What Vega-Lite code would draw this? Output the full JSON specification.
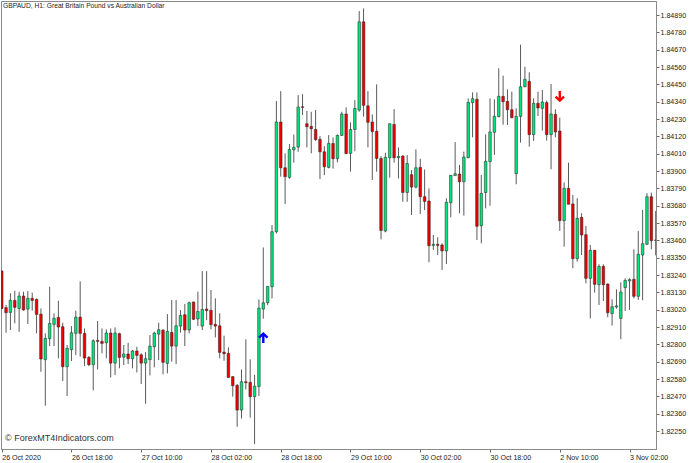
{
"$schema": "https://vega.github.io/schema/vega-lite/v6.json",
"background": "white",
"autosize": "none",
"width": 655,
"height": 448,
"padding": {"left": 1, "top": 1, "right": 40, "bottom": 14},
"config": {"view": {"stroke": "#8a8a8a", "strokeWidth": 1}, "font": "Liberation Sans"},
"datasets": {
"candles": [
{"bar":0,"open":1.83265,"high":1.83272,"low":1.83024,"close":1.83028},
{"bar":1,"open":1.83033,"high":1.83049,"low":1.82874,"close":1.83001},
{"bar":2,"open":1.83003,"high":1.83124,"low":1.82891,"close":1.83079},
{"bar":3,"open":1.83079,"high":1.83140,"low":1.82933,"close":1.83035},
{"bar":4,"open":1.83028,"high":1.83134,"low":1.82880,"close":1.83107},
{"bar":5,"open":1.83107,"high":1.83134,"low":1.83014,"close":1.83018},
{"bar":6,"open":1.83024,"high":1.83138,"low":1.82929,"close":1.83092},
{"bar":7,"open":1.83092,"high":1.83128,"low":1.83014,"close":1.83079},
{"bar":8,"open":1.83085,"high":1.83092,"low":1.82870,"close":1.82990},
{"bar":9,"open":1.82992,"high":1.83028,"low":1.82626,"close":1.82707},
{"bar":10,"open":1.82703,"high":1.82870,"low":1.82411,"close":1.82838},
{"bar":11,"open":1.82836,"high":1.83166,"low":1.82789,"close":1.82933},
{"bar":12,"open":1.82927,"high":1.82997,"low":1.82789,"close":1.82965},
{"bar":13,"open":1.82971,"high":1.83077,"low":1.82711,"close":1.82910},
{"bar":14,"open":1.82912,"high":1.82937,"low":1.82567,"close":1.82658},
{"bar":15,"open":1.82658,"high":1.82796,"low":1.82472,"close":1.82775},
{"bar":16,"open":1.82766,"high":1.82916,"low":1.82694,"close":1.82874},
{"bar":17,"open":1.82870,"high":1.83014,"low":1.82732,"close":1.82973},
{"bar":18,"open":1.82973,"high":1.83200,"low":1.82722,"close":1.82870},
{"bar":19,"open":1.82870,"high":1.82901,"low":1.82662,"close":1.82713},
{"bar":20,"open":1.82717,"high":1.82726,"low":1.82662,"close":1.82671},
{"bar":21,"open":1.82671,"high":1.82832,"low":1.82508,"close":1.82823},
{"bar":22,"open":1.82825,"high":1.82948,"low":1.82641,"close":1.82819},
{"bar":23,"open":1.82819,"high":1.82901,"low":1.82743,"close":1.82806},
{"bar":24,"open":1.82810,"high":1.82895,"low":1.82711,"close":1.82872},
{"bar":25,"open":1.82872,"high":1.82901,"low":1.82590,"close":1.82681},
{"bar":26,"open":1.82681,"high":1.82908,"low":1.82605,"close":1.82872},
{"bar":27,"open":1.82868,"high":1.82874,"low":1.82648,"close":1.82717},
{"bar":28,"open":1.82719,"high":1.82796,"low":1.82669,"close":1.82739},
{"bar":29,"open":1.82739,"high":1.82810,"low":1.82675,"close":1.82709},
{"bar":30,"open":1.82709,"high":1.82764,"low":1.82648,"close":1.82758},
{"bar":31,"open":1.82758,"high":1.82785,"low":1.82622,"close":1.82730},
{"bar":32,"open":1.82734,"high":1.82743,"low":1.82548,"close":1.82681},
{"bar":33,"open":1.82681,"high":1.82751,"low":1.82423,"close":1.82709},
{"bar":34,"open":1.82703,"high":1.82859,"low":1.82603,"close":1.82789},
{"bar":35,"open":1.82785,"high":1.82880,"low":1.82654,"close":1.82872},
{"bar":36,"open":1.82865,"high":1.82937,"low":1.82700,"close":1.82893},
{"bar":37,"open":1.82891,"high":1.82895,"low":1.82610,"close":1.82686},
{"bar":38,"open":1.82679,"high":1.82992,"low":1.82616,"close":1.82882},
{"bar":39,"open":1.82876,"high":1.83081,"low":1.82690,"close":1.82789},
{"bar":40,"open":1.82789,"high":1.83081,"low":1.82675,"close":1.82918},
{"bar":41,"open":1.82916,"high":1.83018,"low":1.82874,"close":1.82984},
{"bar":42,"open":1.82988,"high":1.83056,"low":1.82789,"close":1.82891},
{"bar":43,"open":1.82891,"high":1.83071,"low":1.82870,"close":1.83064},
{"bar":44,"open":1.83069,"high":1.83071,"low":1.82954,"close":1.82959},
{"bar":45,"open":1.82961,"high":1.83134,"low":1.82916,"close":1.83009},
{"bar":46,"open":1.82916,"high":1.83265,"low":1.82891,"close":1.83022},
{"bar":47,"open":1.83024,"high":1.83265,"low":1.82954,"close":1.83014},
{"bar":48,"open":1.83016,"high":1.83145,"low":1.82895,"close":1.82925},
{"bar":49,"open":1.82927,"high":1.83092,"low":1.82844,"close":1.82916},
{"bar":50,"open":1.82918,"high":1.82997,"low":1.82711,"close":1.82749},
{"bar":51,"open":1.82751,"high":1.82855,"low":1.82696,"close":1.82741},
{"bar":52,"open":1.82743,"high":1.82781,"low":1.82588,"close":1.82590},
{"bar":53,"open":1.82595,"high":1.82599,"low":1.82468,"close":1.82538},
{"bar":54,"open":1.82540,"high":1.82548,"low":1.82277,"close":1.82383},
{"bar":55,"open":1.82383,"high":1.82641,"low":1.82330,"close":1.82563},
{"bar":56,"open":1.82563,"high":1.82832,"low":1.82514,"close":1.82557},
{"bar":57,"open":1.82559,"high":1.82705,"low":1.82335,"close":1.82468},
{"bar":58,"open":1.82468,"high":1.82607,"low":1.82167,"close":1.82535},
{"bar":59,"open":1.82533,"high":1.83085,"low":1.82472,"close":1.83030},
{"bar":60,"open":1.83024,"high":1.83415,"low":1.82963,"close":1.83064},
{"bar":61,"open":1.83064,"high":1.83170,"low":1.83049,"close":1.83168},
{"bar":62,"open":1.83166,"high":1.83557,"low":1.83092,"close":1.83515},
{"bar":63,"open":1.83515,"high":1.84344,"low":1.83504,"close":1.84211},
{"bar":64,"open":1.84211,"high":1.84407,"low":1.83864,"close":1.83921},
{"bar":65,"open":1.83921,"high":1.84012,"low":1.83690,"close":1.83864},
{"bar":66,"open":1.83860,"high":1.84071,"low":1.83851,"close":1.84037},
{"bar":67,"open":1.84035,"high":1.84132,"low":1.83953,"close":1.84050},
{"bar":68,"open":1.84052,"high":1.84382,"low":1.84022,"close":1.84306},
{"bar":69,"open":1.84308,"high":1.84388,"low":1.84255,"close":1.84304},
{"bar":70,"open":1.84200,"high":1.84281,"low":1.84050,"close":1.84181},
{"bar":71,"open":1.84183,"high":1.84276,"low":1.84012,"close":1.84168},
{"bar":72,"open":1.84164,"high":1.84287,"low":1.84092,"close":1.84099},
{"bar":73,"open":1.84101,"high":1.84122,"low":1.83849,"close":1.84022},
{"bar":74,"open":1.84022,"high":1.84058,"low":1.83874,"close":1.83927},
{"bar":75,"open":1.83923,"high":1.84128,"low":1.83917,"close":1.84075},
{"bar":76,"open":1.84075,"high":1.84113,"low":1.83915,"close":1.83978},
{"bar":77,"open":1.83978,"high":1.84132,"low":1.83955,"close":1.84126},
{"bar":78,"open":1.84126,"high":1.84276,"low":1.84122,"close":1.84262},
{"bar":79,"open":1.84262,"high":1.84304,"low":1.84008,"close":1.84010},
{"bar":80,"open":1.84012,"high":1.84209,"low":1.83896,"close":1.84164},
{"bar":81,"open":1.84164,"high":1.84350,"low":1.84025,"close":1.84297},
{"bar":82,"open":1.84287,"high":1.84915,"low":1.84276,"close":1.84847},
{"bar":83,"open":1.84847,"high":1.84932,"low":1.84245,"close":1.84317},
{"bar":84,"open":1.84314,"high":1.84407,"low":1.84050,"close":1.84209},
{"bar":85,"open":1.84211,"high":1.84259,"low":1.83843,"close":1.84150},
{"bar":86,"open":1.84152,"high":1.84450,"low":1.83896,"close":1.83980},
{"bar":87,"open":1.83980,"high":1.83995,"low":1.83466,"close":1.83523},
{"bar":88,"open":1.83519,"high":1.84016,"low":1.83511,"close":1.83987},
{"bar":89,"open":1.83984,"high":1.84202,"low":1.83858,"close":1.84200},
{"bar":90,"open":1.84196,"high":1.84293,"low":1.83953,"close":1.83984},
{"bar":91,"open":1.83984,"high":1.84050,"low":1.83853,"close":1.83993},
{"bar":92,"open":1.83995,"high":1.84001,"low":1.83705,"close":1.83764},
{"bar":93,"open":1.83764,"high":1.84001,"low":1.83705,"close":1.83948},
{"bar":94,"open":1.83877,"high":1.83906,"low":1.83621,"close":1.83798},
{"bar":95,"open":1.83798,"high":1.84037,"low":1.83790,"close":1.83921},
{"bar":96,"open":1.83923,"high":1.83978,"low":1.83627,"close":1.83737},
{"bar":97,"open":1.83737,"high":1.83910,"low":1.83652,"close":1.83707},
{"bar":98,"open":1.83710,"high":1.83790,"low":1.83321,"close":1.83426},
{"bar":99,"open":1.83428,"high":1.83494,"low":1.83399,"close":1.83435},
{"bar":100,"open":1.83435,"high":1.83479,"low":1.83367,"close":1.83428},
{"bar":101,"open":1.83431,"high":1.83441,"low":1.83272,"close":1.83393},
{"bar":102,"open":1.83393,"high":1.83727,"low":1.83310,"close":1.83701},
{"bar":103,"open":1.83699,"high":1.83875,"low":1.83606,"close":1.83873},
{"bar":104,"open":1.83871,"high":1.84084,"low":1.83871,"close":1.83883},
{"bar":105,"open":1.83881,"high":1.83938,"low":1.83632,"close":1.83832},
{"bar":106,"open":1.83832,"high":1.84023,"low":1.83617,"close":1.83989},
{"bar":107,"open":1.83985,"high":1.84361,"low":1.83981,"close":1.84336},
{"bar":108,"open":1.84334,"high":1.84399,"low":1.84114,"close":1.84359},
{"bar":109,"open":1.84355,"high":1.84399,"low":1.83462,"close":1.83549},
{"bar":110,"open":1.83553,"high":1.83875,"low":1.83441,"close":1.83758},
{"bar":111,"open":1.83763,"high":1.84133,"low":1.83663,"close":1.83962},
{"bar":112,"open":1.83960,"high":1.84361,"low":1.83680,"close":1.84148},
{"bar":113,"open":1.84146,"high":1.84355,"low":1.84002,"close":1.84247},
{"bar":114,"open":1.84245,"high":1.84552,"low":1.84241,"close":1.84374},
{"bar":115,"open":1.84374,"high":1.84505,"low":1.84194,"close":1.84340},
{"bar":116,"open":1.84342,"high":1.84418,"low":1.84192,"close":1.84289},
{"bar":117,"open":1.84289,"high":1.84404,"low":1.84234,"close":1.84239},
{"bar":118,"open":1.83883,"high":1.84298,"low":1.83816,"close":1.84247},
{"bar":119,"open":1.84247,"high":1.84702,"low":1.84080,"close":1.84435},
{"bar":120,"open":1.84435,"high":1.84562,"low":1.84431,"close":1.84482},
{"bar":121,"open":1.84469,"high":1.84526,"low":1.84055,"close":1.84131},
{"bar":122,"open":1.84131,"high":1.84361,"low":1.84091,"close":1.84330},
{"bar":123,"open":1.84330,"high":1.84404,"low":1.84249,"close":1.84300},
{"bar":124,"open":1.84298,"high":1.84414,"low":1.84156,"close":1.84338},
{"bar":125,"open":1.84334,"high":1.84347,"low":1.84093,"close":1.84131},
{"bar":126,"open":1.84131,"high":1.84452,"low":1.83911,"close":1.84262},
{"bar":127,"open":1.84260,"high":1.84292,"low":1.84114,"close":1.84148},
{"bar":128,"open":1.84154,"high":1.84239,"low":1.83520,"close":1.83585},
{"bar":129,"open":1.83585,"high":1.83828,"low":1.83420,"close":1.83790},
{"bar":130,"open":1.83790,"high":1.83953,"low":1.83689,"close":1.83689},
{"bar":131,"open":1.83691,"high":1.83748,"low":1.83283,"close":1.83344},
{"bar":132,"open":1.83344,"high":1.83727,"low":1.83325,"close":1.83600},
{"bar":133,"open":1.83606,"high":1.83632,"low":1.83367,"close":1.83494},
{"bar":134,"open":1.83496,"high":1.83551,"low":1.83187,"close":1.83219},
{"bar":135,"open":1.83219,"high":1.83431,"low":1.82965,"close":1.83397},
{"bar":136,"open":1.83397,"high":1.83399,"low":1.83128,"close":1.83181},
{"bar":137,"open":1.83179,"high":1.83308,"low":1.83050,"close":1.83295},
{"bar":138,"open":1.83295,"high":1.83308,"low":1.83075,"close":1.83179},
{"bar":139,"open":1.83183,"high":1.83187,"low":1.82972,"close":1.83001},
{"bar":140,"open":1.82995,"high":1.83086,"low":1.82919,"close":1.83039},
{"bar":141,"open":1.83037,"high":1.83149,"low":1.83027,"close":1.83044},
{"bar":142,"open":1.82965,"high":1.83194,"low":1.82832,"close":1.83132},
{"bar":143,"open":1.83160,"high":1.83219,"low":1.83012,"close":1.83206},
{"bar":144,"open":1.83202,"high":1.83219,"low":1.83018,"close":1.83211},
{"bar":145,"open":1.83213,"high":1.83403,"low":1.83092,"close":1.83105},
{"bar":146,"open":1.83105,"high":1.83520,"low":1.83082,"close":1.83372},
{"bar":147,"open":1.83367,"high":1.83653,"low":1.83080,"close":1.83439},
{"bar":148,"open":1.83435,"high":1.83759,"low":1.83431,"close":1.83737},
{"bar":149,"open":1.83737,"high":1.83763,"low":1.83403,"close":1.83458},
{"bar":150,"open":1.83460,"high":1.83646,"low":1.83365,"close":1.83462}
],
"signals": [
{"bar":60,"price":1.82840,"signal":"buy"},
{"bar":128,"price":1.84376,"signal":"sell"}
],
"notes": [
{"bar":0.3,"price":1.84947,"label":"GBPAUD, H1:  Great Britain Pound vs Australian Dollar","size":6.7,"tone":"#222222"},
{"bar":0.76,"price":1.82205,"label":"© ForexMT4Indicators.com","size":9,"tone":"#333333"}
]
},
"layer": [
{
"data": {"name": "candles"},
"mark": {"type": "rule", "color": "#5a5a5a", "strokeWidth": 1, "clip": true},
"encoding": {
"x": {"field": "bar", "type": "quantitative", "scale": {"domain": [-0.16, 150.07], "nice": false, "zero": false, "padding": 0},
  "axis": {"title": null, "grid": false, "values": [0,16,32,48,64,80,96,112,128,144], "tickCount": 10, "domainColor": "#8a8a8a", "tickColor": "#666666", "tickSize": 3, "labelAlign": "left", "labelPadding": 1, "labelFont": "Liberation Sans", "labelFontSize": 7.1, "labelColor": "#222222", "labelOverlap": false, "labelBound": false, "labelFlush": false,
    "labelExpr": "['26 Oct 2020','26 Oct 18:00','27 Oct 10:00','28 Oct 02:00','28 Oct 18:00','29 Oct 10:00','30 Oct 02:00','30 Oct 18:00','2 Nov 10:00','3 Nov 02:00'][datum.value/16]"}},
"y": {"field": "low", "type": "quantitative", "scale": {"domain": [1.82136, 1.84979], "nice": false, "zero": false},
  "axis": {"title": null, "grid": false, "orient": "right", "values": [1.8225,1.8236,1.8247,1.8258,1.8269,1.828,1.8291,1.8302,1.8313,1.8324,1.8335,1.8346,1.8357,1.8368,1.8379,1.839,1.8401,1.8412,1.8423,1.8434,1.8445,1.8456,1.8467,1.8478,1.8489], "tickCount": 25, "format": ".5f", "domainColor": "#8a8a8a", "tickColor": "#666666", "tickSize": 3, "labelPadding": 1, "labelFont": "Liberation Sans", "labelFontSize": 7.1, "labelColor": "#222222", "labelOverlap": false, "labelBound": false, "labelFlush": false}},
"y2": {"field": "high"}
}
},
{
"data": {"name": "candles"},
"mark": {"type": "bar", "size": 2.6, "stroke": "#222222", "strokeWidth": 0.5, "clip": true},
"encoding": {
"x": {"field": "bar", "type": "quantitative"},
"y": {"field": "open", "type": "quantitative"},
"y2": {"field": "close"},
"fill": {"condition": {"test": "datum.close >= datum.open", "value": "#00e47c"}, "value": "#ee0000"}
}
},
{
"data": {"name": "signals"},
"mark": {"type": "point", "filled": false, "size": 100, "strokeWidth": 2.4, "opacity": 1},
"encoding": {
"x": {"field": "bar", "type": "quantitative"},
"y": {"field": "price", "type": "quantitative"},
"shape": {"field": "signal", "type": "nominal", "legend": null, "scale": {"domain": ["buy", "sell"], "range": ["M0,1 L0,-0.9 M-0.85,-0.1 L0,-0.9 L0.85,-0.1", "M0,-1 L0,0.9 M-0.85,0.1 L0,0.9 L0.85,0.1"]}},
"stroke": {"field": "signal", "type": "nominal", "legend": null, "scale": {"domain": ["buy", "sell"], "range": ["#0000ff", "#ff0000"]}}
}
},
{
"data": {"name": "notes"},
"mark": {"type": "text", "align": "left", "baseline": "middle", "font": "Liberation Sans"},
"encoding": {
"x": {"field": "bar", "type": "quantitative"},
"y": {"field": "price", "type": "quantitative"},
"text": {"field": "label"},
"size": {"field": "size", "type": "quantitative", "scale": null},
"color": {"field": "tone", "type": "nominal", "scale": null}
}
}
]
}
